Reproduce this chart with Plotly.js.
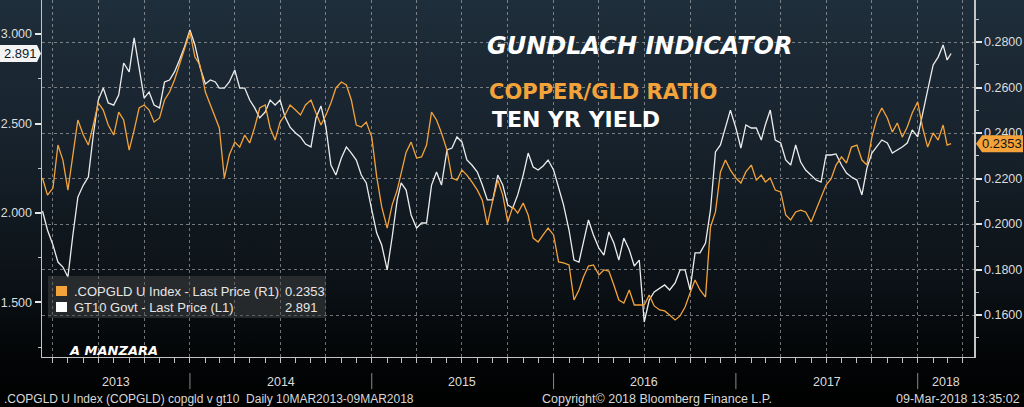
<!DOCTYPE html>
<html>
<head>
<meta charset="utf-8">
<script src="https://cdn.plot.ly/plotly-3.0.1.min.js"></script>
<style>
  html, body { margin:0; padding:0; }
  body { width:1024px; height:407px; overflow:hidden;
         background: linear-gradient(180deg, #1f2e3b 0%, #17222c 35%, #0b1116 70%, #030506 88%, #000 100%); }
  #chart { width:1024px; height:407px; }
</style>
</head>
<body>
<div id="chart"></div>
<script>
// ---------------- DATA ----------------
const dates = [
 "2013-03-11","2013-03-21",
 "2013-04-01","2013-04-11","2013-04-21","2013-05-01","2013-05-11","2013-05-21","2013-06-01","2013-06-11","2013-06-21",
 "2013-07-01","2013-07-11","2013-07-21","2013-08-01","2013-08-11","2013-08-21","2013-09-01","2013-09-11","2013-09-21",
 "2013-10-01","2013-10-11","2013-10-21","2013-11-01","2013-11-11","2013-11-21","2013-12-01","2013-12-11","2013-12-21",
 "2014-01-01","2014-01-11","2014-01-21","2014-02-01","2014-02-11","2014-02-21","2014-03-01","2014-03-11","2014-03-21",
 "2014-04-01","2014-04-11","2014-04-21","2014-05-01","2014-05-11","2014-05-21","2014-06-01","2014-06-11","2014-06-21",
 "2014-07-01","2014-07-11","2014-07-21","2014-08-01","2014-08-11","2014-08-21","2014-09-01","2014-09-11","2014-09-21",
 "2014-10-01","2014-10-11","2014-10-21","2014-11-01","2014-11-11","2014-11-21","2014-12-01","2014-12-11","2014-12-21",
 "2015-01-01","2015-01-11","2015-01-21","2015-02-01","2015-02-11","2015-02-21","2015-03-01","2015-03-11","2015-03-21",
 "2015-04-01","2015-04-11","2015-04-21","2015-05-01","2015-05-11","2015-05-21","2015-06-01","2015-06-11","2015-06-21",
 "2015-07-01","2015-07-11","2015-07-21","2015-08-01","2015-08-11","2015-08-21","2015-09-01","2015-09-11","2015-09-21",
 "2015-10-01","2015-10-11","2015-10-21","2015-11-01","2015-11-11","2015-11-21","2015-12-01","2015-12-11","2015-12-21",
 "2016-01-01","2016-01-11","2016-01-21","2016-02-01","2016-02-11","2016-02-21","2016-03-01","2016-03-11","2016-03-21",
 "2016-04-01","2016-04-11","2016-04-21","2016-05-01","2016-05-11","2016-05-21","2016-06-01","2016-06-11","2016-06-21",
 "2016-07-01","2016-07-11","2016-07-21","2016-08-01","2016-08-11","2016-08-21","2016-09-01","2016-09-11","2016-09-21",
 "2016-10-01","2016-10-11","2016-10-21","2016-11-01","2016-11-11","2016-11-21","2016-12-01","2016-12-11","2016-12-21",
 "2017-01-01","2017-01-11","2017-01-21","2017-02-01","2017-02-11","2017-02-21","2017-03-01","2017-03-11","2017-03-21",
 "2017-04-01","2017-04-11","2017-04-21","2017-05-01","2017-05-11","2017-05-21","2017-06-01","2017-06-11","2017-06-21",
 "2017-07-01","2017-07-11","2017-07-21","2017-08-01","2017-08-11","2017-08-21","2017-09-01","2017-09-11","2017-09-21",
 "2017-10-01","2017-10-11","2017-10-21","2017-11-01","2017-11-11","2017-11-21","2017-12-01","2017-12-11","2017-12-21",
 "2018-01-01","2018-01-11","2018-01-21","2018-02-01","2018-02-11","2018-02-21","2018-03-01","2018-03-09"
];

// GT10 Govt (left axis, L1)
const gt10 = [
 2.011,1.905,1.821,1.726,1.698,1.642,1.877,2.089,2.156,2.201,
 2.436,2.631,2.698,2.615,2.603,2.659,2.838,2.788,2.978,2.799,
 2.642,2.676,2.603,2.587,2.732,2.743,2.788,2.855,2.927,3.022,
 2.939,2.816,2.721,2.743,2.732,2.698,2.698,2.732,2.799,2.698,
 2.698,2.631,2.587,2.531,2.564,2.631,2.603,2.631,2.536,2.480,
 2.447,2.425,2.385,2.369,2.531,2.598,2.480,2.268,2.212,2.307,
 2.369,2.335,2.296,2.212,2.168,2.017,1.888,1.821,1.682,1.866,
 2.073,2.168,2.128,1.989,1.916,1.944,1.944,2.156,2.229,2.156,
 2.352,2.363,2.425,2.397,2.296,2.268,2.229,2.156,2.073,2.073,
 2.212,2.156,2.045,2.028,2.101,2.212,2.335,2.257,2.240,2.263,
 2.296,2.240,2.140,2.045,1.905,1.737,1.726,1.832,1.961,1.877,
 1.804,1.765,1.894,1.832,1.737,1.860,1.793,1.704,1.737,1.391,
 1.514,1.559,1.581,1.598,1.570,1.609,1.682,1.682,1.570,1.777,
 1.777,1.832,2.017,2.341,2.380,2.475,2.575,2.475,2.363,2.492,
 2.475,2.475,2.408,2.492,2.575,2.408,2.391,2.296,2.268,2.380,
 2.285,2.240,2.212,2.184,2.173,2.324,2.324,2.330,2.268,2.223,
 2.201,2.184,2.101,2.251,2.335,2.369,2.408,2.391,2.335,2.352,
 2.369,2.391,2.464,2.425,2.564,2.687,2.827,2.871,2.939,2.855,
 2.891
];

// .COPGLD U Index (right axis, R1)
const copgld = [
 0.2202,0.2127,0.2158,0.2347,0.2281,0.2149,0.2303,0.2457,0.2391,0.2347,
 0.2435,0.2532,0.2501,0.2435,0.2391,0.2492,0.2457,0.2325,0.2413,0.2510,
 0.2523,0.2501,0.2448,0.2466,0.2545,0.2580,0.2633,0.2699,0.2765,0.2844,
 0.2734,0.2699,0.2580,0.2523,0.2470,0.2422,0.2202,0.2303,0.2360,0.2338,
 0.2391,0.2356,0.2426,0.2510,0.2523,0.2422,0.2369,0.2448,0.2479,0.2523,
 0.2501,0.2479,0.2523,0.2545,0.2488,0.2435,0.2479,0.2532,0.2598,0.2624,
 0.2611,0.2545,0.2435,0.2426,0.2448,0.2382,0.2207,0.2075,0.1982,0.2084,
 0.2149,0.2229,0.2316,0.2360,0.2290,0.2295,0.2347,0.2492,0.2457,0.2400,
 0.2325,0.2202,0.2193,0.2237,0.2215,0.2185,0.2149,0.2105,0.1996,0.2105,
 0.2193,0.2127,0.2009,0.2075,0.2048,0.2092,0.2040,0.1938,0.1921,0.1952,
 0.1982,0.1952,0.1833,0.1829,0.1820,0.1666,0.1710,0.1767,0.1815,0.1820,
 0.1776,0.1798,0.1793,0.1732,0.1666,0.1653,0.1710,0.1644,0.1644,0.1644,
 0.1688,0.1640,0.1622,0.1618,0.1600,0.1578,0.1596,0.1635,0.1697,0.1754,
 0.1710,0.1679,0.1987,0.2053,0.2229,0.2281,0.2237,0.2202,0.2180,0.2229,
 0.2259,0.2193,0.2215,0.2185,0.2202,0.2149,0.2141,0.2040,0.2018,0.2053,
 0.2061,0.2053,0.2009,0.2061,0.2119,0.2171,0.2198,0.2259,0.2295,0.2268,
 0.2338,0.2347,0.2281,0.2259,0.2382,0.2466,0.2510,0.2466,0.2404,0.2444,
 0.2382,0.2426,0.2488,0.2537,0.2422,0.2338,0.2400,0.2369,0.2435,0.2347,
 0.2353
];

const seriesNames = [".COPGLD U Index - Last Price (R1)", "GT10 Govt - Last Price (L1)"];
const yearLabels = ["2013","2014","2015","2016","2017","2018"];
const yearLabelDates = ["2013-08-05","2014-07-02","2015-07-02","2016-07-01","2017-07-02","2018-02-27"];
const yearStarts = ["2014-01-01","2015-01-01","2016-01-01","2017-01-01","2018-01-01"];
const titleLines = ["GUNDLACH INDICATOR","COPPER/GLD RATIO","TEN YR YIELD"];
const author = "A MANZARA";
const footer = [".COPGLD U Index (COPGLD) copgld v gt10  Daily 10MAR2013-09MAR2018",
                "Copyright\u00a9 2018 Bloomberg Finance L.P.",
                "09-Mar-2018 13:35:02"];

// ---------------- STYLE ----------------
const ORANGE = "#f3a33a";
const WHITE = "#ececec";
const GRID = "rgba(185,185,185,0.6)";
const AXIS = "#c4c4c4";
const TXT = "#dcdcdc";
const xRange = ["2013-03-10","2018-04-24"];
const yLeftRange = [1.1955, 3.190];
const yRightRange = [0.14154, 0.29846];
const yDomain0 = 0.0679;

const lastGT = gt10[gt10.length-1];
const lastCop = copgld[copgld.length-1];

const traces = [
  {x: dates, y: copgld, type: "scatter", mode: "lines", xaxis: "x", yaxis: "y2",
   name: seriesNames[0], line: {color: ORANGE, width: 1.3}, hoverinfo: "skip"},
  {x: dates, y: gt10, type: "scatter", mode: "lines", xaxis: "x", yaxis: "y",
   name: seriesNames[1], line: {color: WHITE, width: 1.3}, hoverinfo: "skip"}
];

const baseFont = {family: "Liberation Sans, Arial, sans-serif", size: 12, color: TXT};

const shapes = [];
yearStarts.forEach(d => shapes.push({type: "line", xref: "x", yref: "paper", x0: d, x1: d,
  y0: 0.026, y1: -0.016, line: {color: "#8a8a8a", width: 1}}));
// legend panel
shapes.push({type: "rect", xref: "paper", yref: "paper", x0: 0.0064, x1: 0.3047, y0: 0.1697, y1: 0.2794,
  fillcolor: "rgba(75,75,75,0.45)", line: {width: 0}, layer: "above"});
shapes.push({type: "rect", xref: "paper", yref: "paper", x0: 0.0150, x1: 0.0268, y0: 0.2272, y1: 0.2533,
  fillcolor: ORANGE, line: {width: 0}, layer: "above"});
shapes.push({type: "rect", xref: "paper", yref: "paper", x0: 0.0150, x1: 0.0268, y0: 0.1854, y1: 0.2115,
  fillcolor: "#ffffff", line: {width: 0}, layer: "above"});
// last-value flags
shapes.push({type: "path", xref: "paper", xsizemode: "pixel", xanchor: 0, yref: "y", ysizemode: "pixel", yanchor: lastGT,
  path: "M-42,-8.5L-5,-8.5L-1,0L-5,8.5L-42,8.5Z", fillcolor: "#f4f4f4", line: {width: 0}, layer: "above"});
shapes.push({type: "path", xref: "paper", xsizemode: "pixel", xanchor: 1, yref: "y2", ysizemode: "pixel", yanchor: lastCop,
  path: "M2,0L8,-8.5L49,-8.5L49,8.5L8,8.5Z", fillcolor: ORANGE, line: {width: 0}, layer: "above"});

const annotations = [
  {text: titleLines[0], xref: "paper", yref: "paper", x: 0.4753, y: 0.8786, xanchor: "left", yanchor: "middle", showarrow: false,
   font: {family: "DejaVu Sans", size: 24, color: "#ffffff", weight: "bold", style: "italic"}},
  {text: titleLines[1], xref: "paper", yref: "paper", x: 0.4775, y: 0.7585, xanchor: "left", yanchor: "middle", showarrow: false,
   font: {family: "DejaVu Sans", size: 21, color: ORANGE, weight: "bold"}},
  {text: titleLines[2], xref: "paper", yref: "paper", x: 0.4807, y: 0.688, xanchor: "left", yanchor: "middle", showarrow: false,
   font: {family: "DejaVu Sans", size: 22, color: "#ffffff", weight: "bold"}},
  {text: author, xref: "paper", yref: "paper", x: 0.0268, y: 0.0836, xanchor: "left", yanchor: "middle", showarrow: false,
   font: {family: "DejaVu Sans", size: 13, color: "#ffffff", weight: "bold", style: "italic"}},
  // legend text
  {text: seriesNames[0], xref: "paper", yref: "paper", x: 0.0322, y: 0.2402, xanchor: "left", yanchor: "middle", showarrow: false,
   font: {family: "Liberation Sans", size: 13, color: "#e6e6e6"}},
  {text: seriesNames[1], xref: "paper", yref: "paper", x: 0.0322, y: 0.1984, xanchor: "left", yanchor: "middle", showarrow: false,
   font: {family: "Liberation Sans", size: 13, color: "#e6e6e6"}},
  {text: lastCop.toFixed(4), xref: "paper", yref: "paper", x: 0.2586, y: 0.2402, xanchor: "left", yanchor: "middle", showarrow: false,
   font: {family: "Liberation Sans", size: 13, color: "#e6e6e6"}},
  {text: lastGT.toFixed(3), xref: "paper", yref: "paper", x: 0.2586, y: 0.1984, xanchor: "left", yanchor: "middle", showarrow: false,
   font: {family: "Liberation Sans", size: 13, color: "#e6e6e6"}},
  // flags text
  {text: lastGT.toFixed(3), xref: "paper", yref: "y", x: 0, y: lastGT, xshift: -22, xanchor: "center", yanchor: "middle", showarrow: false,
   font: {family: "Liberation Sans", size: 13, color: "#0d1b2a"}},
  {text: lastCop.toFixed(4), xref: "paper", yref: "y2", x: 1, y: lastCop, xshift: 28, xanchor: "center", yanchor: "middle", showarrow: false,
   font: {family: "Liberation Sans", size: 13, color: "#141414"}},
  // footer
  {text: footer[0], xref: "paper", yref: "paper", x: -0.0429, y: -0.041, xanchor: "left", yanchor: "middle", showarrow: false,
   font: {family: "Liberation Sans", size: 12, color: "#d8d8d8"}},
  {text: footer[1], xref: "paper", yref: "paper", x: 0.660, y: -0.041, xanchor: "center", yanchor: "middle", showarrow: false,
   font: {family: "Liberation Sans", size: 12.5, color: "#d8d8d8"}},
  {text: footer[2], xref: "paper", yref: "paper", x: 1.0515, y: -0.041, xanchor: "right", yanchor: "middle", showarrow: false,
   font: {family: "Liberation Sans", size: 12.5, color: "#d8d8d8"}}
];
// year labels along the time axis
yearLabels.forEach((lab, k) => annotations.push({text: lab, xref: "x", yref: "paper", x: yearLabelDates[k], y: 0.003,
  xanchor: "center", yanchor: "middle", showarrow: false,
  font: {family: "Liberation Sans", size: 12.5, color: TXT}}));

const layout = {
  width: 1024, height: 407,
  margin: {l: 42, r: 50, t: 0, b: 24, pad: 0},
  paper_bgcolor: "rgba(0,0,0,0)", plot_bgcolor: "rgba(0,0,0,0)",
  showlegend: false,
  font: baseFont,
  xaxis: {
    type: "date", range: xRange, anchor: "y",
    tick0: "2013-01-01", dtick: "M3",
    showgrid: true, gridcolor: GRID, griddash: "dot", gridwidth: 1,
    showticklabels: false, ticks: "outside", ticklen: 5, tickcolor: AXIS, tickwidth: 1,
    minor: {dtick: "M1", ticks: "outside", ticklen: 5, tickcolor: AXIS, tickwidth: 1, showgrid: false},
    showline: true, linecolor: AXIS, linewidth: 1.5, zeroline: false
  },
  yaxis: {
    range: yLeftRange, domain: [yDomain0, 1], anchor: "x",
    tick0: 0, dtick: 0.5, tickformat: ".3f",
    ticks: "outside", ticklen: 6, tickwidth: 2, tickcolor: "#e8e8e8",
    minor: {dtick: 0.25, ticks: "outside", ticklen: 3, tickcolor: AXIS, tickwidth: 1, showgrid: false},
    showgrid: false, showline: true, linecolor: AXIS, linewidth: 1.5, zeroline: false,
    tickfont: {family: "Liberation Sans", size: 12.5, color: TXT}
  },
  yaxis2: {
    range: yRightRange, overlaying: "y", side: "right", anchor: "x",
    tick0: 0, dtick: 0.02, tickformat: ".4f",
    ticks: "outside", ticklen: 6, tickwidth: 2, tickcolor: "#e8e8e8",
    minor: {dtick: 0.01, ticks: "outside", ticklen: 3, tickcolor: AXIS, tickwidth: 1, showgrid: false},
    showgrid: true, gridcolor: GRID, griddash: "dot", gridwidth: 1,
    showline: true, linecolor: AXIS, linewidth: 1.5, zeroline: false,
    tickfont: {family: "Liberation Sans", size: 12.5, color: TXT}
  },
  shapes: shapes,
  annotations: annotations
};

Plotly.newPlot("chart", traces, layout, {displayModeBar: false, staticPlot: true});
</script>
</body>
</html>
